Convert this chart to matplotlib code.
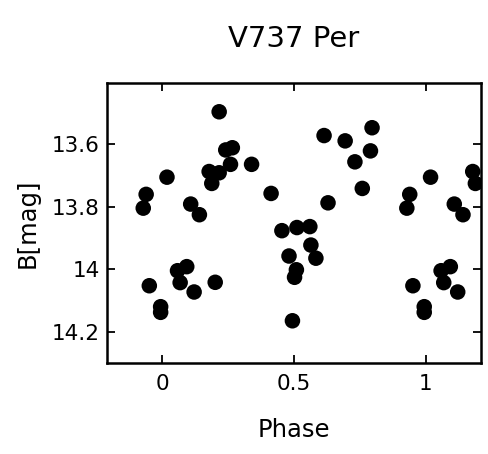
import numpy as np
import matplotlib
matplotlib.use("Agg")
import matplotlib.pyplot as plt
from matplotlib.ticker import FuncFormatter

# phase-folded light curve of V737 Per, one cycle
phase = [0.018, 0.216, 0.241, 0.266, 0.259, 0.339, 0.178, 0.216, 0.188,
         0.108, 0.141, 0.413, 0.454, 0.511, 0.481, 0.509, 0.502, 0.494,
         0.058, 0.093, 0.068, 0.121, 0.201, 0.614, 0.694, 0.796, 0.790,
         0.731, 0.759, 0.629, 0.560, 0.564, 0.583, 0.939, 0.928, 0.951,
         0.994, 0.994]
bmag = [13.706, 13.497, 13.619, 13.612, 13.665, 13.665, 13.688, 13.692, 13.726,
        13.792, 13.826, 13.758, 13.877, 13.867, 13.958, 14.002, 14.026, 14.165,
        14.005, 13.992, 14.043, 14.073, 14.042, 13.573, 13.590, 13.548, 13.622,
        13.657, 13.742, 13.788, 13.864, 13.923, 13.965, 13.761, 13.805, 14.053,
        14.120, 14.138]

xticks = [0, 0.5, 1]
yticks = [13.6, 13.8, 14.0, 14.2]

# repeat the cycle on both sides, keep what falls in the plotted window
ph = np.array(phase)
mg = np.array(bmag)
x_all = np.concatenate([ph - 1, ph, ph + 1])
y_all = np.concatenate([mg, mg, mg])
keep = (x_all > -0.2) & (x_all < 1.2)

fig = plt.figure(figsize=(4.88, 4.54), dpi=100)
ax = fig.add_axes([0.219, 0.2004, 0.767, 0.6168])

ax.scatter(x_all[keep], y_all[keep], s=125, color="black", edgecolors="none", zorder=3)

ax.set_xlim(-0.21, 1.21)
ax.set_ylim(14.30, 13.405)
ax.set_xticks(xticks)
ax.set_yticks(yticks)
fmt = FuncFormatter(lambda v, p: "%g" % v)
ax.xaxis.set_major_formatter(fmt)
ax.yaxis.set_major_formatter(fmt)

ax.tick_params(direction="in", length=6, width=1.3, top=True, right=True,
               labelsize=15.5)
ax.tick_params(axis="x", pad=8)
ax.tick_params(axis="y", pad=5)
for s in ax.spines.values():
    s.set_linewidth(1.8)

ax.set_xlabel("Phase", fontsize=17.5, labelpad=17)
ax.set_ylabel("B[mag]", fontsize=17.5, labelpad=9)
ax.set_title("V737 Per", fontsize=21, pad=26)

fig.savefig("out.png", dpi=100)
